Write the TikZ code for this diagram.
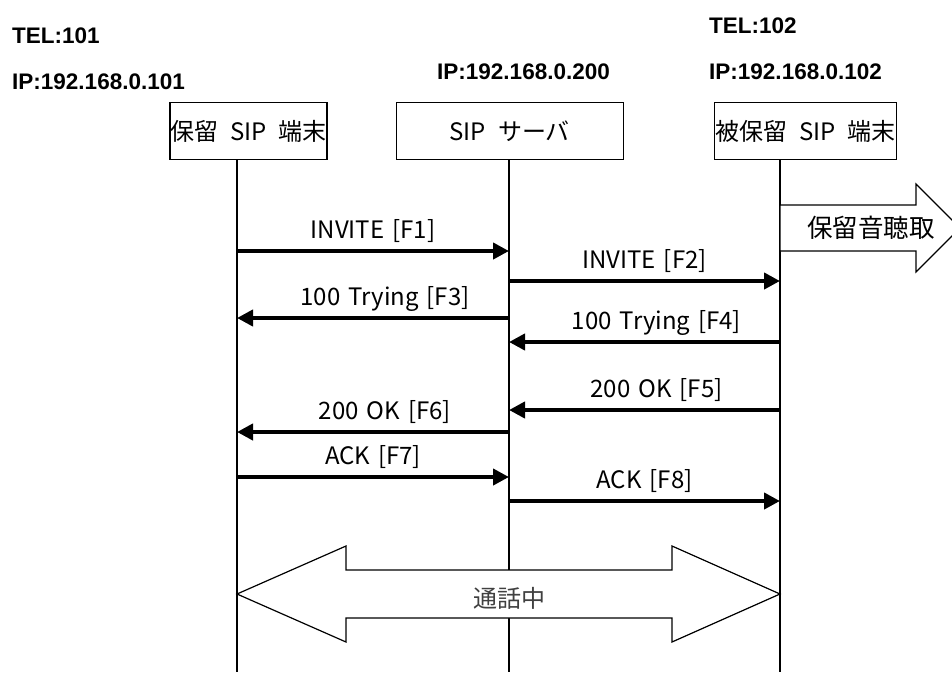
\documentclass[tikz,border=0pt]{standalone}
\usepackage{fontspec}
\setmainfont{Noto Sans CJK JP}
\newfontfamily\headfont{Liberation Sans}
\usepackage{tikz}
\usetikzlibrary{positioning,arrows.meta}
\newcommand{\wideskip}[1]{\spaceskip=#1\relax}

\begin{document}
\begin{tikzpicture}[
    x=1pt, y=-1pt,
    box/.style={rectangle, draw, line width=1.2pt, minimum height=57pt, inner sep=0pt, font={\fontsize{24}{28}\selectfont\wideskip{12pt}}},
    addr/.style={anchor=base west, inner sep=0pt, font=\headfont\bfseries\fontsize{22.5}{26}\selectfont},
    life/.style={line width=1.3pt},
    msg/.style={line width=4.5pt, -{Triangle[length=16pt, width=16pt]}},
    msglabel/.style={midway, anchor=base, yshift=13pt, inner sep=0pt, font={\fontsize{24}{27}\selectfont\wideskip{8pt}}},
    bigarrow/.style={draw, fill=white, line width=1.2pt, line join=miter}
]
\useasboundingbox (0,0) rectangle (952,675);

% addresses
\node[addr] (tel1) at (12,43) {TEL:101};
\node[addr] (ip1) at (12,89) {IP:192.168.0.101};
\node[addr] (ip2) at (437,79) {IP:192.168.0.200};
\node[addr] (tel3) at (709,33) {TEL:102};
\node[addr] (ip3) at (709,79) {IP:192.168.0.102};

% entities
\node[box, minimum width=157pt] (hold) at (248.5,131) {保留 SIP 端末};
\node[box, minimum width=227pt, right=68pt of hold] (server) {SIP サーバ};
\node[box, minimum width=182pt, right=90pt of server] (held) {被保留 SIP 端末};

% lifelines
\coordinate (end1) at (237,672);
\coordinate (end2) at (509,672);
\coordinate (end3) at (780,672);
\draw[life] (hold.south -| end1) -- (end1);
\draw[life] (server.south -| end2) -- (end2);
\draw[life] (held.south -| end3) -- (end3);

% message rows
\coordinate (m1) at (0,251);
\coordinate (m2) at (0,281);
\coordinate (m3) at (0,318);
\coordinate (m4) at (0,342);
\coordinate (m5) at (0,410);
\coordinate (m6) at (0,432);
\coordinate (m7) at (0,477);
\coordinate (m8) at (0,501);

\draw[msg] (end1 |- m1) -- node[msglabel] {INVITE [F1]} (end2 |- m1);
\draw[msg] (end2 |- m2) -- node[msglabel] {INVITE [F2]} (end3 |- m2);
\draw[msg] (end2 |- m3) -- node[msglabel, xshift=12pt] {100 Trying [F3]} (end1 |- m3);
\draw[msg] (end3 |- m4) -- node[msglabel, xshift=12pt] {100 Trying [F4]} (end2 |- m4);
\draw[msg] (end3 |- m5) -- node[msglabel, xshift=12pt] {200 OK [F5]} (end2 |- m5);
\draw[msg] (end2 |- m6) -- node[msglabel, xshift=12pt] {200 OK [F6]} (end1 |- m6);
\draw[msg] (end1 |- m7) -- node[msglabel] {ACK [F7]} (end2 |- m7);
\draw[msg] (end2 |- m8) -- node[msglabel] {ACK [F8]} (end3 |- m8);

% hold tone
\draw[bigarrow] (780,205) -- (916,205) -- (916,184) -- (960,228) -- (916,272) -- (916,251) -- (780,251) -- cycle;
\node[font=\fontsize{25.5}{30}\selectfont, inner sep=0pt] (tone) at (871,228) {保留音聴取};

% call in progress
\draw[bigarrow] (237,594) -- (346,546) -- (346,570) -- (672,570) -- (672,546) -- (780,594)
    -- (672,642) -- (672,618) -- (346,618) -- (346,642) -- cycle;
\node[font=\fontsize{24}{28}\selectfont, text=black!75, inner sep=0pt] (talk) at (509,598) {通話中};
\end{tikzpicture}
\end{document}
